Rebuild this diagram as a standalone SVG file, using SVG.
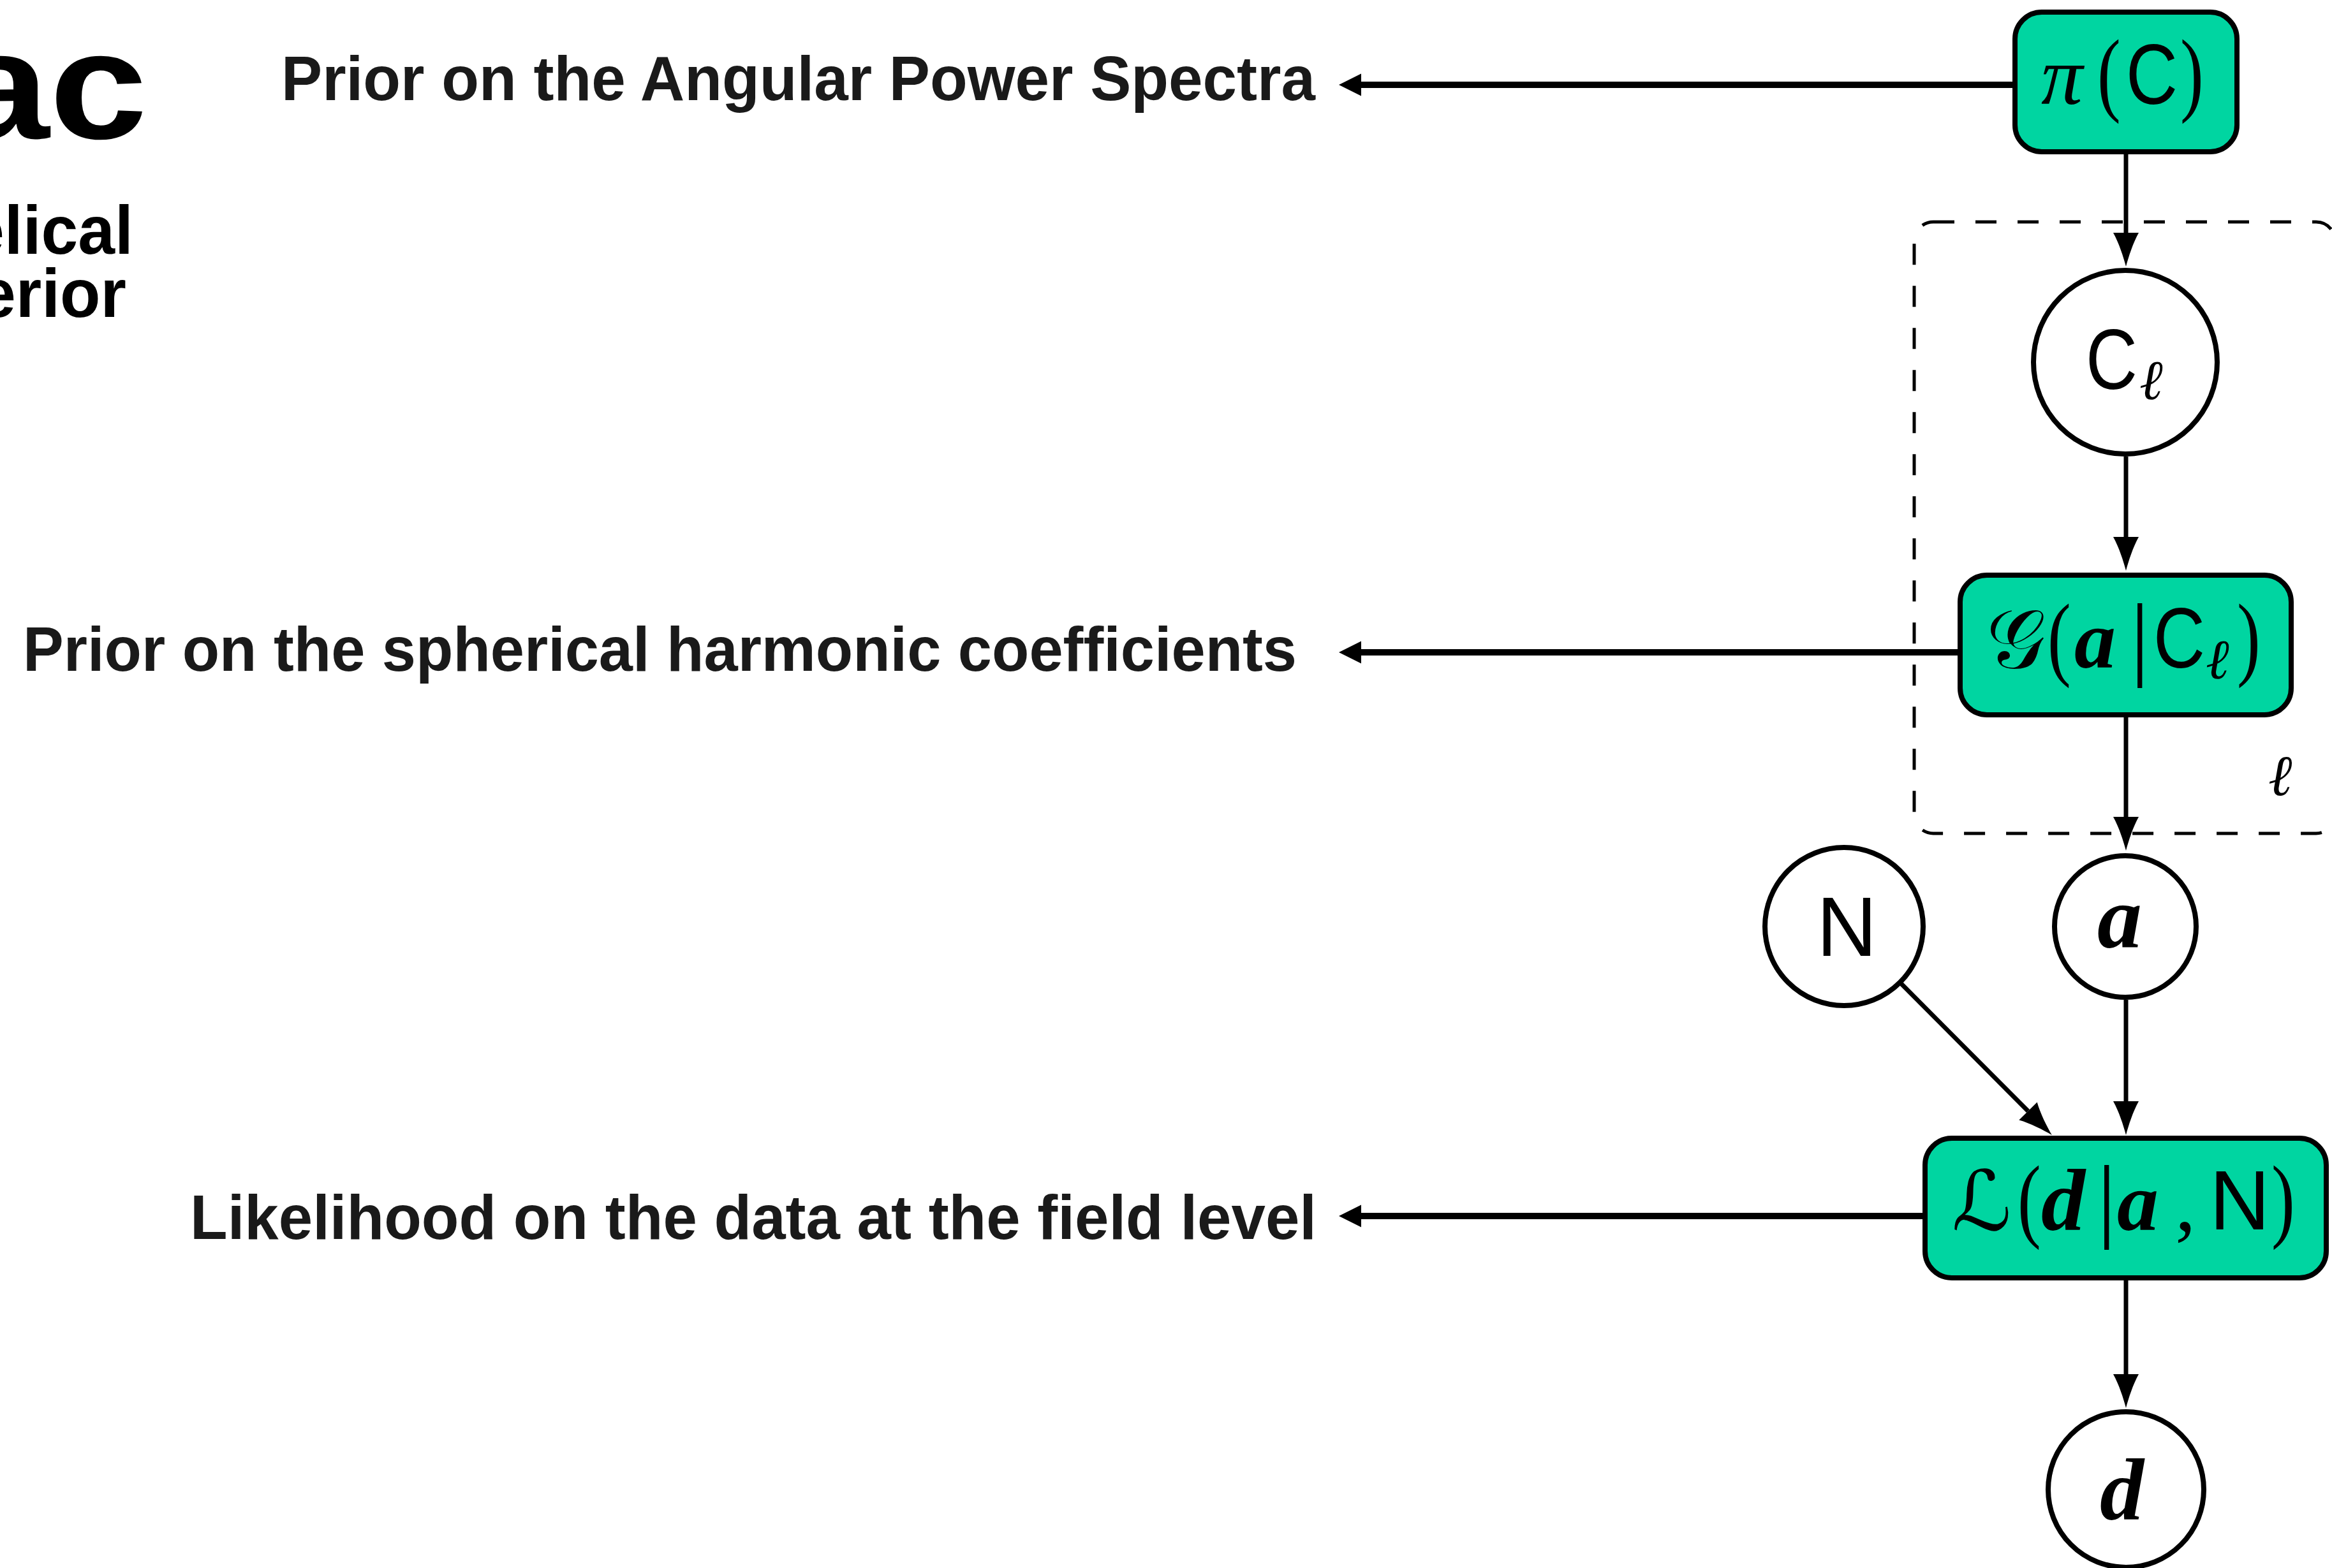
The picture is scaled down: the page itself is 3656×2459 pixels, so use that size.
<svg xmlns="http://www.w3.org/2000/svg" width="3656" height="2459" viewBox="0 0 3656 2459">
<style>
.lbl{font-family:"Liberation Sans",Arial,sans-serif;font-weight:bold;font-size:98px;fill:#1a1a1a}
.ttl{font-family:"Liberation Sans",Arial,sans-serif;font-weight:bold;fill:#000}
.box{fill:#00D5A1;stroke:#000;stroke-width:8}
.circ{fill:#fff;stroke:#000;stroke-width:8}
.sans{font-family:"Liberation Sans",Arial,sans-serif;fill:#000}
.ser{font-family:"Liberation Serif","Times New Roman",serif;fill:#000}
.par{font-family:"Liberation Serif","Times New Roman",serif;font-size:147px;fill:#000}
.cal{font-family:"DejaVu Serif","DejaVu Sans","Noto Sans",serif;fill:#000}
.it{font-style:italic}
.bi{font-style:italic;font-weight:bold}
.edge{stroke:#000;stroke-width:7;fill:none}
.lead{stroke:#000;stroke-width:10;fill:none}
.plate{fill:none;stroke:#000;stroke-width:5;stroke-dasharray:33 33}
</style>
<defs>
<marker id="ah" markerUnits="userSpaceOnUse" viewBox="-2 -24 58 48" markerWidth="58" markerHeight="48" refX="0" refY="0" orient="auto" overflow="visible">
<path d="M53,0 C38,-4 16,-11 0,-20 L0,20 C16,11 38,4 53,0 Z" fill="#000"/>
</marker>
<marker id="lh" markerUnits="userSpaceOnUse" viewBox="-2 -20 40 40" markerWidth="40" markerHeight="40" refX="0" refY="0" orient="auto" overflow="visible">
<path d="M35,0 L0,-17.5 L0,17.5 Z" fill="#000"/>
</marker>
</defs>
<rect width="3656" height="2459" fill="#fff"/>

<g id="title">
<text class="ttl" font-size="240" text-anchor="end" transform="translate(231,217) scale(1.15,1)">ac</text>
<text class="ttl" font-size="108" x="-51" y="398" textLength="260" lengthAdjust="spacingAndGlyphs">elical</text>
<text class="ttl" font-size="108" x="-33" y="497" textLength="231" lengthAdjust="spacingAndGlyphs">erior</text>
</g>

<g id="labels">
<text class="lbl" x="441" y="157" textLength="1621" lengthAdjust="spacingAndGlyphs">Prior on the Angular Power Spectra</text>
<text class="lbl" x="36" y="1052" textLength="1997" lengthAdjust="spacingAndGlyphs">Prior on the spherical harmonic coefficients</text>
<text class="lbl" x="298" y="1943" textLength="1766" lengthAdjust="spacingAndGlyphs">Likelihood on the data at the field level</text>
</g>

<g id="plate">
<rect class="plate" x="3001" y="348" width="660" height="959" rx="30" ry="30"/>
<text class="ser it" font-size="90" x="3556" y="1247">ℓ</text>
</g>

<g id="connectors">
<line class="lead" x1="3159" y1="133" x2="2134" y2="133" marker-end="url(#lh)"/>
<line class="lead" x1="3073" y1="1023" x2="2134" y2="1023" marker-end="url(#lh)"/>
<line class="lead" x1="3018" y1="1907" x2="2134" y2="1907" marker-end="url(#lh)"/>
<line class="edge" x1="3333" y1="242" x2="3333" y2="365" marker-end="url(#ah)"/>
<line class="edge" x1="3333" y1="716" x2="3333" y2="842" marker-end="url(#ah)"/>
<line class="edge" x1="3333" y1="1125" x2="3333" y2="1281" marker-end="url(#ah)"/>
<line class="edge" x1="3333" y1="1568" x2="3333" y2="1727" marker-end="url(#ah)"/>
<line class="edge" x1="2979" y1="1541" x2="3179.5" y2="1742.5" marker-end="url(#ah)"/>
<line class="edge" x1="3333" y1="2008" x2="3333" y2="2155" marker-end="url(#ah)"/>
</g>

<g id="node-piC">
<rect class="box" x="3159" y="19" width="348" height="219" rx="42" ry="42"/>
<text class="ser it" font-size="130" x="3200" y="163">π</text>
<text class="par" transform="translate(3288,163) scale(0.75,1)">(</text>
<text class="sans" font-size="134" x="3333" y="163" textLength="81" lengthAdjust="spacingAndGlyphs">C</text>
<text class="par" transform="translate(3418,163) scale(0.75,1)">)</text>
</g>

<g id="node-Cl">
<circle class="circ" cx="3332" cy="568" r="144"/>
<text class="sans" font-size="134" x="3270" y="610" textLength="81" lengthAdjust="spacingAndGlyphs">C</text>
<text class="ser it" font-size="88" x="3354" y="626">ℓ</text>
</g>

<g id="node-G">
<rect class="box" x="3073" y="902" width="519" height="219" rx="42" ry="42"/>
<text class="cal" font-size="130" x="3114" y="1047">𝒢</text>
<text class="par" transform="translate(3210,1048) scale(0.75,1)">(</text>
<text class="ser bi" font-size="130" x="3252" y="1047">a</text>
<text class="par" x="3340" y="1048">|</text>
<text class="sans" font-size="134" x="3376" y="1047" textLength="81" lengthAdjust="spacingAndGlyphs">C</text>
<text class="ser it" font-size="88" x="3458" y="1064">ℓ</text>
<text class="par" transform="translate(3507,1048) scale(0.75,1)">)</text>
</g>

<g id="node-a">
<circle class="circ" cx="3332" cy="1453" r="111"/>
<text class="ser bi" font-size="140" x="3288" y="1486">a</text>
</g>

<g id="node-N">
<circle class="circ" cx="2891" cy="1453" r="124"/>
<text class="sans" font-size="131" x="2848" y="1499">N</text>
</g>

<g id="node-L">
<rect class="box" x="3018" y="1785" width="629" height="219" rx="42" ry="42"/>
<text class="cal" font-size="130" x="3060" y="1929">ℒ</text>
<text class="par" transform="translate(3163,1929) scale(0.75,1)">(</text>
<text class="ser bi" font-size="138" x="3200" y="1929">d</text>
<text class="par" x="3288" y="1929">|</text>
<text class="ser bi" font-size="130" x="3319" y="1929">a</text>
<text class="ser" font-size="130" x="3410" y="1929">,</text>
<text class="sans" font-size="131" x="3464" y="1928">N</text>
<text class="par" transform="translate(3561,1929) scale(0.75,1)">)</text>
</g>

<g id="node-d">
<circle class="circ" cx="3333" cy="2336" r="122"/>
<text class="ser bi" font-size="138" x="3292" y="2383">d</text>
</g>
</svg>
